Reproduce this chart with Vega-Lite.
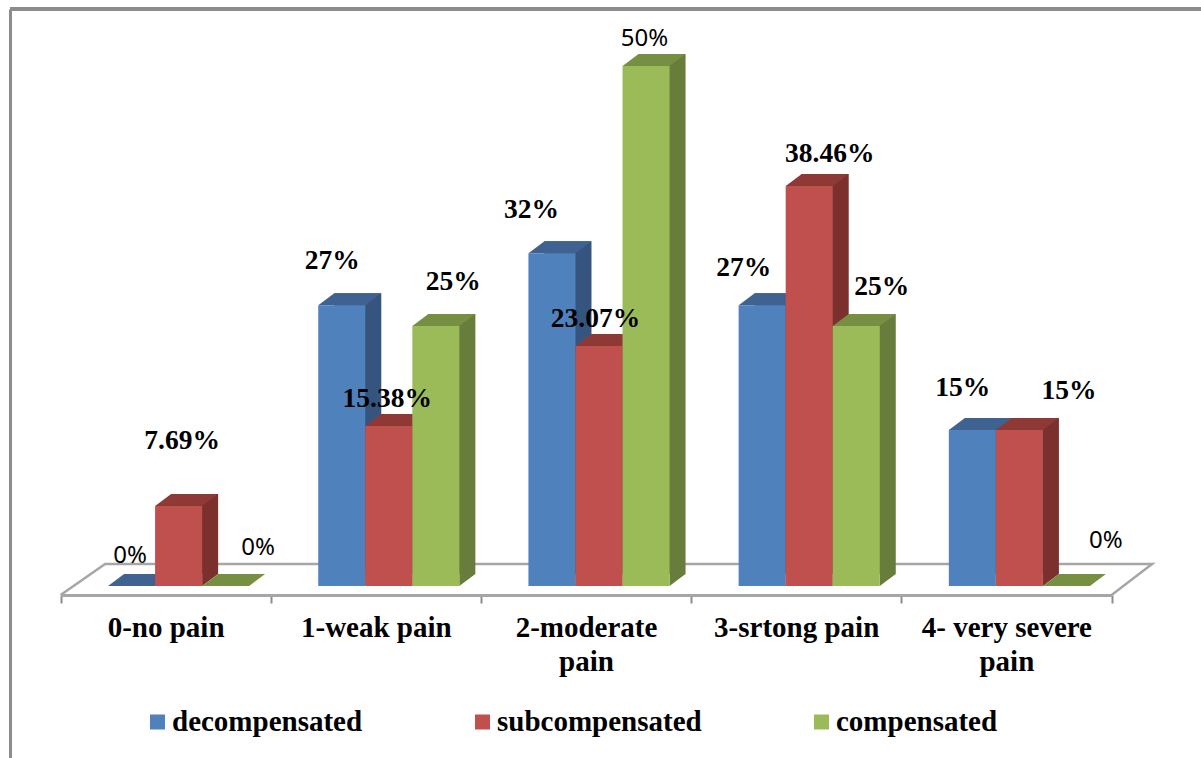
{
"$schema":"https://vega.github.io/schema/vega-lite/v6.json",
"width":1191,"height":749,
"autosize":"none",
"padding":{"left":10,"top":9,"right":0,"bottom":0},
"background":"white",
"config":{"view":{"stroke":null}},
"data":{"values":[
{"pain":"0-no pain","stage":"decompensated","share":0},
{"pain":"1-weak pain","stage":"decompensated","share":0.27},
{"pain":"2-moderate pain","stage":"decompensated","share":0.32},
{"pain":"3-srtong pain","stage":"decompensated","share":0.27},
{"pain":"4- very severe pain","stage":"decompensated","share":0.15},
{"pain":"0-no pain","stage":"subcompensated","share":0.0769},
{"pain":"1-weak pain","stage":"subcompensated","share":0.1538},
{"pain":"2-moderate pain","stage":"subcompensated","share":0.2307},
{"pain":"3-srtong pain","stage":"subcompensated","share":0.3846},
{"pain":"4- very severe pain","stage":"subcompensated","share":0.15},
{"pain":"0-no pain","stage":"compensated","share":0},
{"pain":"1-weak pain","stage":"compensated","share":0.25},
{"pain":"2-moderate pain","stage":"compensated","share":0.5},
{"pain":"3-srtong pain","stage":"compensated","share":0.25},
{"pain":"4- very severe pain","stage":"compensated","share":0}
]},
"layer":[
{"layer":[
  {"mark":{"type":"rule","color":"#8c8c8c","strokeWidth":3},
   "encoding":{"y":{"datum":0.5548,"type":"quantitative","scale":{"domain":[-0.1654,0.5548]},
     "axis":{"title":null,"labels":false,"ticks":false,"grid":false,"domain":true,"domainColor":"#8c8c8c","domainWidth":3}}}},
  {"mark":{"type":"point","shape":"M-105,9 L-60.5,-22 L986.5,-22 L946,9","size":4,"filled":false,"stroke":"#a6a6a6","strokeWidth":2.5,"opacity":1},
   "transform":[{"filter":"datum.share == 0.0769"}],
   "encoding":{
     "x":{"field":"pain","type":"nominal","sort":null,
       "scale":{"domain":["0-no pain","1-weak pain","2-moderate pain","3-srtong pain","4- very severe pain"],"range":[50.5,1101.5],"paddingInner":0,"paddingOuter":0},
       "axis":{"title":null,"offset":-163,"labelAngle":0,"tickBand":"extent","domainColor":"#a6a6a6","domainWidth":3,"tickColor":"#8c8c8c","tickWidth":2,"tickSize":8,
         "labelFont":"Liberation Serif","labelFontWeight":"bold","labelFontSize":29,"labelColor":"#000000","labelPadding":10,"labelLimit":300,"labelLineHeight":34,"labelBaseline":"top",
         "labelExpr":"datum.label == '2-moderate pain' ? ['2-moderate','pain'] : datum.label == '4- very severe pain' ? ['4- very severe','pain'] : datum.label"}},
     "y":{"datum":0,"type":"quantitative","scale":{"domain":[-0.1654,0.5548]}}}}
 ]},
{"mark":{"type":"bar"},
 "transform":[{"filter":"datum.share > 0"}],
 "encoding":{
   "x":{"field":"pain","type":"nominal","sort":null,"axis":null,"scale":{"domain":["0-no pain","1-weak pain","2-moderate pain","3-srtong pain","4- very severe pain"],"range":[79.5,1130.5],"paddingInner":0.3286,"paddingOuter":0.1643}},
   "xOffset":{"field":"stage","type":"nominal","scale":{"domain":["decompensated","subcompensated","compensated"],"paddingInner":0,"paddingOuter":0}},
   "y":{"field":"share","type":"quantitative","axis":null,"scale":{"domain":[-0.1654,0.5548],"range":[737,-12]}},
   "y2":{"datum":0},
   "color":{"field":"stage","type":"nominal","legend":null,"scale":{"domain":["decompensated","subcompensated","compensated"],"range":["#35557f","#7b302e","#687d3b"]}}}},
{"encoding":{
  "x":{"field":"pain","type":"nominal","sort":null,"axis":null,"scale":{"domain":["0-no pain","1-weak pain","2-moderate pain","3-srtong pain","4- very severe pain"],"range":[63.5,1114.5],"paddingInner":0.3286,"paddingOuter":0.1643}},
  "xOffset":{"field":"stage","type":"nominal","scale":{"domain":["decompensated","subcompensated","compensated"],"paddingInner":0,"paddingOuter":0}},
  "y":{"field":"share","type":"quantitative","axis":null,"scale":{"domain":[-0.1654,0.5548]}}
 },
 "layer":[
  {"mark":{"type":"point","shape":"M23.5,0 L39.5,-12 L23.5,-12 Z","size":4,"filled":true,"opacity":1,"strokeWidth":0},
   "transform":[{"filter":"datum.share > 0"}],
   "encoding":{"y":{"datum":0,"type":"quantitative"},
     "color":{"field":"stage","type":"nominal","legend":null,"scale":{"domain":["decompensated","subcompensated","compensated"],"range":["#35557f","#7b302e","#687d3b"]}}}},
  {"mark":{"type":"point","shape":"M-23.5,0 L23.5,0 L39.5,-12 L-7.5,-12 Z","size":4,"filled":true,"opacity":1,"strokeWidth":0},
   "encoding":{"color":{"field":"stage","type":"nominal","legend":null,"scale":{"domain":["decompensated","subcompensated","compensated"],"range":["#3f6290","#8f3937","#778f42"]}}}},
  {"mark":{"type":"bar"},
   "transform":[{"filter":"datum.share > 0"}],
   "encoding":{"y2":{"datum":0},
     "color":{"field":"stage","type":"nominal","scale":{"domain":["decompensated","subcompensated","compensated"],"range":["#4f81bd","#c0504d","#9bbb59"]},
       "legend":{"title":null,"orient":"none","legendX":133,"legendY":698,"direction":"horizontal","columns":3,"columnPadding":105,"symbolType":"square","symbolSize":225,"symbolStrokeWidth":0,"labelOffset":0,"labelFont":"Liberation Serif","labelFontWeight":"bold","labelFontSize":29,"labelColor":"#000000","labelLimit":300,"padding":0,"clipHeight":30}}}},
  {"transform":[{"filter":"datum.stage == 'decompensated' && datum.pain == '0-no pain'"}],"mark":{"type":"text","font":"Noto Sans","fontSize":24,"color":"#000000","baseline":"middle","dx":-1.5,"dy":-30},"encoding":{"text":{"field":"share","format":".2~%"}}},
  {"transform":[{"filter":"datum.stage == 'subcompensated' && datum.pain == '0-no pain'"}],"mark":{"type":"text","font":"Liberation Serif","fontWeight":"bold","fontSize":27.5,"color":"#000000","baseline":"middle","dx":3.5,"dy":-65},"encoding":{"text":{"field":"share","format":".2~%"}}},
  {"transform":[{"filter":"datum.stage == 'compensated' && datum.pain == '0-no pain'"}],"mark":{"type":"text","font":"Noto Sans","fontSize":24,"color":"#000000","baseline":"middle","dx":32.5,"dy":-38},"encoding":{"text":{"field":"share","format":".2~%"}}},
  {"transform":[{"filter":"datum.stage == 'decompensated' && datum.pain == '1-weak pain'"}],"mark":{"type":"text","font":"Liberation Serif","fontWeight":"bold","fontSize":27.5,"color":"#000000","baseline":"middle","dx":-9.5,"dy":-44},"encoding":{"text":{"field":"share","format":".2~%"}}},
  {"transform":[{"filter":"datum.stage == 'subcompensated' && datum.pain == '1-weak pain'"}],"mark":{"type":"text","font":"Liberation Serif","fontWeight":"bold","fontSize":27.5,"color":"#000000","baseline":"middle","dx":-1.5,"dy":-27},"encoding":{"text":{"field":"share","format":".2~%"}}},
  {"transform":[{"filter":"datum.stage == 'compensated' && datum.pain == '1-weak pain'"}],"mark":{"type":"text","font":"Liberation Serif","fontWeight":"bold","fontSize":27.5,"color":"#000000","baseline":"middle","dx":17.5,"dy":-44},"encoding":{"text":{"field":"share","format":".2~%"}}},
  {"transform":[{"filter":"datum.stage == 'decompensated' && datum.pain == '2-moderate pain'"}],"mark":{"type":"text","font":"Liberation Serif","fontWeight":"bold","fontSize":27.5,"color":"#000000","baseline":"middle","dx":-20.5,"dy":-43},"encoding":{"text":{"field":"share","format":".2~%"}}},
  {"transform":[{"filter":"datum.stage == 'subcompensated' && datum.pain == '2-moderate pain'"}],"mark":{"type":"text","font":"Liberation Serif","fontWeight":"bold","fontSize":27.5,"color":"#000000","baseline":"middle","dx":-3.5,"dy":-27},"encoding":{"text":{"field":"share","format":".2~%"}}},
  {"transform":[{"filter":"datum.stage == 'compensated' && datum.pain == '2-moderate pain'"}],"mark":{"type":"text","font":"Noto Sans","fontSize":24,"color":"#000000","baseline":"middle","dx":-1.5,"dy":-27},"encoding":{"text":{"field":"share","format":".2~%"}}},
  {"transform":[{"filter":"datum.stage == 'decompensated' && datum.pain == '3-srtong pain'"}],"mark":{"type":"text","font":"Liberation Serif","fontWeight":"bold","fontSize":27.5,"color":"#000000","baseline":"middle","dx":-18.5,"dy":-37},"encoding":{"text":{"field":"share","format":".2~%"}}},
  {"transform":[{"filter":"datum.stage == 'subcompensated' && datum.pain == '3-srtong pain'"}],"mark":{"type":"text","font":"Liberation Serif","fontWeight":"bold","fontSize":27.5,"color":"#000000","baseline":"middle","dx":20.5,"dy":-32},"encoding":{"text":{"field":"share","format":".2~%"}}},
  {"transform":[{"filter":"datum.stage == 'compensated' && datum.pain == '3-srtong pain'"}],"mark":{"type":"text","font":"Liberation Serif","fontWeight":"bold","fontSize":27.5,"color":"#000000","baseline":"middle","dx":25.5,"dy":-39},"encoding":{"text":{"field":"share","format":".2~%"}}},
  {"transform":[{"filter":"datum.stage == 'decompensated' && datum.pain == '4- very severe pain'"}],"mark":{"type":"text","font":"Liberation Serif","fontWeight":"bold","fontSize":27.5,"color":"#000000","baseline":"middle","dx":-9.5,"dy":-42},"encoding":{"text":{"field":"share","format":".2~%"}}},
  {"transform":[{"filter":"datum.stage == 'subcompensated' && datum.pain == '4- very severe pain'"}],"mark":{"type":"text","font":"Liberation Serif","fontWeight":"bold","fontSize":27.5,"color":"#000000","baseline":"middle","dx":49.5,"dy":-39},"encoding":{"text":{"field":"share","format":".2~%"}}},
  {"transform":[{"filter":"datum.stage == 'compensated' && datum.pain == '4- very severe pain'"}],"mark":{"type":"text","font":"Noto Sans","fontSize":24,"color":"#000000","baseline":"middle","dx":39.5,"dy":-45},"encoding":{"text":{"field":"share","format":".2~%"}}}
 ],
 "resolve":{"scale":{"color":"independent"}}
}
],
"resolve":{"scale":{"x":"independent","y":"independent","color":"independent"}}
}
